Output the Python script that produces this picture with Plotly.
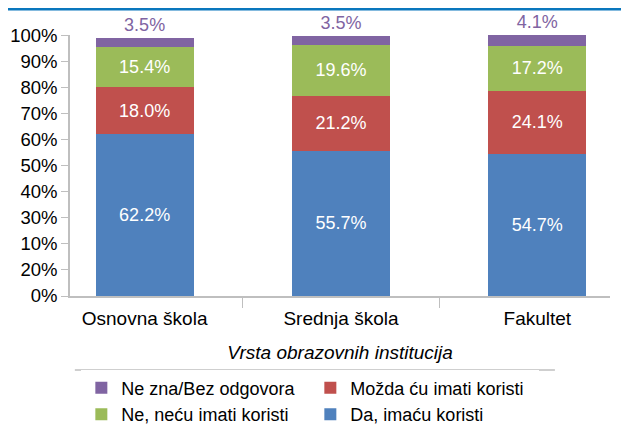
import plotly.graph_objects as go

CATEGORIES = ["Osnovna škola", "Srednja škola", "Fakultet"]
DA = [62.2, 55.7, 54.7]
MOZDA = [18.0, 21.2, 24.1]
NE = [15.4, 19.6, 17.2]
NE_ZNA = [3.5, 3.5, 4.1]

Y_TICKVALS = [0, 10, 20, 30, 40, 50, 60, 70, 80, 90, 100]
Y_TICKTEXT = ["0%", "20%", "10%", "30%", "40%", "50%", "60%", "70%", "80%", "90%", "100%"]

FONT = "Liberation Sans, Arial, sans-serif"
GRID = "#BFBFBF"

series = [
    ("Da, imaću koristi", DA, "#4F81BD", 4),
    ("Možda ću imati koristi", MOZDA, "#C0504D", 2),
    ("Ne, neću imati koristi", NE, "#9BBB59", 3),
    ("Ne zna/Bez odgovora", NE_ZNA, "#8064A2", 1),
]

fig = go.Figure()
for name, values, color, rank in series:
    top = name == "Ne zna/Bez odgovora"
    fig.add_trace(
        go.Bar(
            x=CATEGORIES,
            y=values,
            name=name,
            marker={"color": color, "line": {"width": 0}},
            width=0.5,
            texttemplate="%{y:.1f}%",
            textposition="outside" if top else "inside",
            insidetextanchor="middle",
            textfont={"color": color if top else "white", "size": 18, "family": FONT},
            cliponaxis=False,
            legendrank=rank,
        )
    )

# the page body adds an 8px offset, so margins are shifted to compensate
fig.update_layout(
    barmode="stack",
    width=629,
    height=425,
    margin={"l": 62, "r": 27, "t": 27, "b": 137, "autoexpand": False},
    paper_bgcolor="white",
    plot_bgcolor="white",
    font={"family": FONT, "size": 19, "color": "black"},
    legend={
        "orientation": "h",
        "traceorder": "normal",
        "x": 0.021,
        "xanchor": "left",
        "y": -0.282,
        "yanchor": "top",
        "entrywidth": 184,
        "entrywidthmode": "pixels",
        "font": {"size": 18},
        "itemsizing": "constant",
        "tracegroupgap": 0,
    },
    showlegend=True,
)
fig.update_xaxes(
    range=[-0.38, 2.37],
    automargin=False,
    showline=True,
    linecolor=GRID,
    linewidth=1.5,
    ticks="outside",
    tickson="boundaries",
    ticklen=10,
    tickcolor=GRID,
    ticklabelstandoff=4,
    tickfont={"size": 19},
    title={
        "text": "Vrsta obrazovnih institucija",
        "font": {"size": 19, "style": "italic"},
        "standoff": 18,
    },
)
fig.update_yaxes(
    range=[0, 100.2],
    automargin=False,
    tickvals=Y_TICKVALS,
    ticktext=Y_TICKTEXT,
    showgrid=False,
    zeroline=False,
    showline=True,
    linecolor=GRID,
    linewidth=1.5,
    ticks="outside",
    ticklen=7,
    tickcolor=GRID,
    tickfont={"size": 18.5},
)

# header strip and separator line under the axis title
fig.add_shape(type="rect", xref="paper", yref="paper", x0=-0.128, x1=-0.037,
              y0=1.1, y1=1.134, fillcolor="#0A77BD", line_width=0, layer="above")
fig.add_shape(type="rect", xref="paper", yref="paper", x0=-0.022, x1=1.04,
              y0=1.105, y1=1.14, fillcolor="white", line={"color": "#C8D3DC", "width": 1},
              layer="above")
fig.add_shape(type="line", xref="paper", yref="paper", x0=-0.13, x1=1.04,
              y0=1.1, y1=1.1, line={"color": "#0A77BD", "width": 3}, layer="above")
fig.add_shape(type="line", xref="paper", yref="paper", x0=0.009, x1=0.898,
              y0=-0.284, y1=-0.284, line={"color": GRID, "width": 1.5})

fig.write_html("out.html")
